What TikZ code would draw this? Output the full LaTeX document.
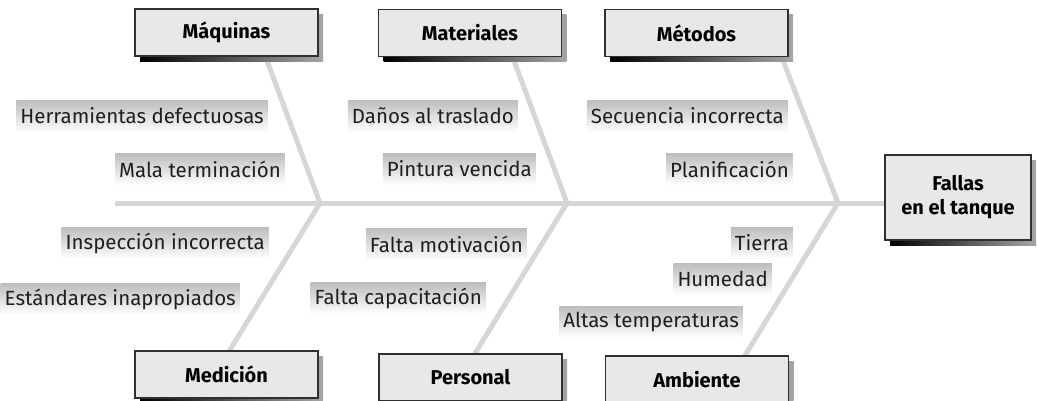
\documentclass[tikz,border=0pt]{standalone}
\usepackage{fontspec}
\setmainfont{Fira Sans}
\usetikzlibrary{shadows}
\definecolor{bone}{HTML}{D6D6D6}
\definecolor{boxfill}{HTML}{E8E8E8}
\definecolor{boxline}{HTML}{303030}
\tikzset{
  bonestyle/.style={draw=bone, line width=5pt},
  catbox/.style={draw=boxline, line width=1.1pt, fill=boxfill, minimum width=183pt, minimum height=47pt,
    font=\fontsize{20}{24}\selectfont\bfseries, inner sep=0pt,
    general shadow={left color=black, right color=black!35, shadow xshift=5pt, shadow yshift=-5pt}},
  effbox/.style={catbox, minimum width=146pt, minimum height=85pt, align=center},
  cause/.style={anchor=east, top color=black!26, bottom color=white, minimum height=32pt,
    inner xsep=4pt, inner ysep=0pt, font=\fontsize{20.5}{24}\selectfont, text=black!88}
}
\begin{document}
\begin{tikzpicture}[x=1pt,y=-1pt]
\useasboundingbox (0,0) rectangle (1037,400);
% junctions and bone ends
\coordinate (tail) at (115,203);
\coordinate (j1) at (320,203);
\coordinate (j2) at (567,203);
\coordinate (j3) at (838,203);
\coordinate (t1) at (263,50);
\coordinate (t2) at (510,50);
\coordinate (t3) at (779,50);
\coordinate (d1) at (225,358);
\coordinate (d2) at (471,360);
\coordinate (d3) at (741,362);
% bones
\draw[bonestyle] (tail) -- (885,203);
\draw[bonestyle] (j1) -- (t1);
\draw[bonestyle] (j2) -- (t2);
\draw[bonestyle] (j3) -- (t3);
\draw[bonestyle] (j1) -- (d1);
\draw[bonestyle] (j2) -- (d2);
\draw[bonestyle] (j3) -- (d3);
% category boxes
\node[catbox] (maq) at (226.5,32.5) {Máquinas};
\node[catbox] (mat) at (470,33) {Materiales};
\node[catbox] (met) at (696.5,33) {Métodos};
\node[catbox] (med) at (226.5,374.5) {Medición};
\node[catbox] (per) at (470.5,377.5) {Personal};
\node[catbox] (amb) at (697,379.5) {Ambiente};
\node[effbox] (eff) at (958,197.5) {Fallas\\en el tanque};
% causes
\node[cause] (c1) at (268,116) {Herramientas defectuosas};
\node[cause] (c2) at (285,169) {Mala terminación};
\node[cause] (c3) at (518,116) {Daños al traslado};
\node[cause] (c4) at (536,169) {Pintura vencida};
\node[cause] (c5) at (788,116) {Secuencia incorrecta};
\node[cause] (c6) at (793,169) {Planificación};
\node[cause] (c7) at (269,243) {Inspección incorrecta};
\node[cause] (c8) at (240,299) {Estándares inapropiados};
\node[cause] (c9) at (527,244) {Falta motivación};
\node[cause] (c10) at (486,298) {Falta capacitación};
\node[cause] (c11) at (793,243) {Tierra};
\node[cause] (c12) at (772,279) {Humedad};
\node[cause] (c13) at (743,322) {Altas temperaturas};
\end{tikzpicture}
\end{document}
